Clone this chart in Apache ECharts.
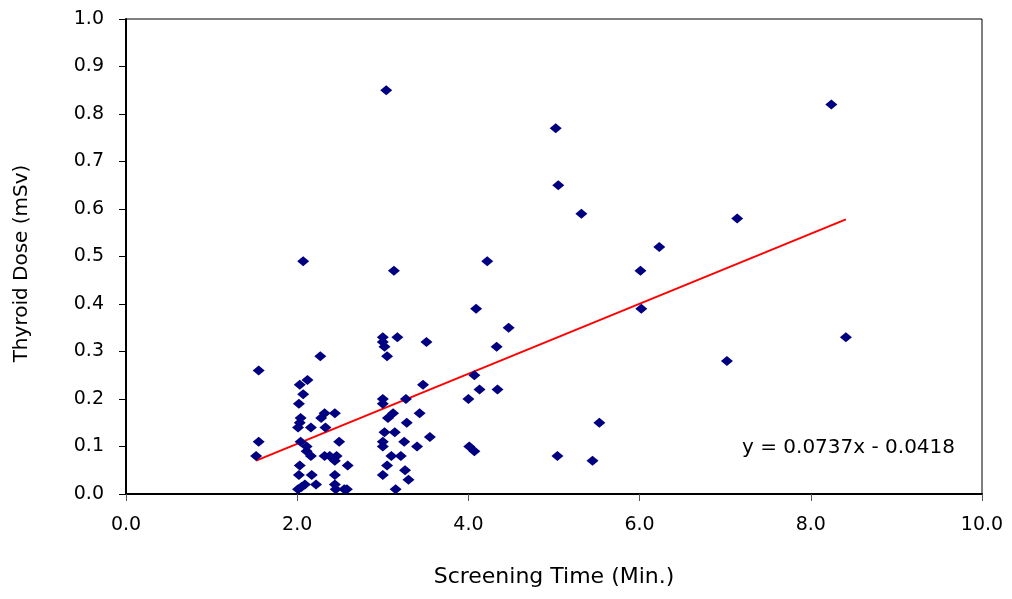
<!DOCTYPE html>
<html lang="en">
<head>
<meta charset="UTF-8">
<title>Thyroid Dose vs Screening Time</title>
<script src="https://cdn.jsdelivr.net/npm/echarts@6/dist/echarts.min.js"></script>
<style>
  html, body { margin: 0; padding: 0; background: #fff; }
  #main { width: 1012px; height: 599px; }
</style>
</head>
<body>
<div id="main"></div>
<script>
// screening time (min) and thyroid dose (mSv)
var screeningTime = [
  2.27, 1.55, 2.12, 2.03, 2.07, 2.02, 2.32, 2.44, 2.28, 2.04,
  2.03, 2.01, 2.16, 2.33, 1.55, 2.04, 2.49, 2.11, 1.52, 2.11,
  2.16, 2.32, 2.38, 2.46, 2.44, 2.59, 2.03, 2.02, 2.17, 2.44,
  2.22, 2.09, 2.05, 2.01, 2.44, 2.45, 2.55, 2.58, 2.07,
  3.13, 3.00, 3.00, 3.02, 3.17, 3.51, 3.05, 3.47, 3.00, 3.00,
  3.27, 3.12, 3.06, 3.43, 3.28, 3.02, 3.14, 3.55, 3.00, 3.00,
  3.25, 3.40, 3.10, 3.21, 3.05, 3.26, 3.00, 3.30, 3.15, 3.04,
  4.09, 4.33, 4.07, 4.13, 4.34, 4.00, 4.01, 4.07, 4.22, 4.47,
  5.04, 5.45, 5.53, 5.02, 8.24, 5.05, 5.32, 7.14, 6.23, 6.01,
  6.02, 8.41, 7.02
];
var thyroidDose = [
  0.29, 0.26, 0.24, 0.23, 0.21, 0.19, 0.17, 0.17, 0.16, 0.16,
  0.15, 0.14, 0.14, 0.14, 0.11, 0.11, 0.11, 0.10, 0.08, 0.09,
  0.08, 0.08, 0.08, 0.08, 0.07, 0.06, 0.06, 0.04, 0.04, 0.04,
  0.02, 0.02, 0.015, 0.01, 0.02, 0.01, 0.01, 0.01, 0.49,
  0.47, 0.33, 0.32, 0.31, 0.33, 0.32, 0.29, 0.23, 0.20, 0.19,
  0.20, 0.17, 0.16, 0.17, 0.15, 0.13, 0.13, 0.12, 0.11, 0.10,
  0.11, 0.10, 0.08, 0.08, 0.06, 0.05, 0.04, 0.03, 0.01, 0.85,
  0.39, 0.31, 0.25, 0.22, 0.22, 0.20, 0.10, 0.09, 0.49, 0.35,
  0.08, 0.07, 0.15, 0.77, 0.82, 0.65, 0.59, 0.58, 0.52, 0.47,
  0.39, 0.33, 0.28
];
// linear trend (from the chart's equation)
var trendSlope = 0.0737;
var trendIntercept = -0.0418;
var trendLabel = 'y = 0.0737x - 0.0418';

var points = [];
for (var i = 0; i < screeningTime.length; i++) {
  points.push([screeningTime[i], thyroidDose[i]]);
}
var xMin = Math.min.apply(null, screeningTime);
var xMax = Math.max.apply(null, screeningTime);
var trend = [
  [xMin, trendSlope * xMin + trendIntercept],
  [xMax, trendSlope * xMax + trendIntercept]
];

var font = 'DejaVu Sans';
var myChart = echarts.init(document.getElementById('main'));
var option = {
  backgroundColor: '#fff',
  animation: false,
  grid: {
    left: 126, right: 30, top: 19, bottom: 105,
    show: true, borderColor: '#000', borderWidth: 1,
    containLabel: false
  },
  xAxis: {
    type: 'value',
    min: 0, max: 10, interval: 2,
    name: 'Screening Time (Min.)',
    nameLocation: 'middle',
    nameGap: 72,
    nameTextStyle: { fontFamily: font, fontSize: 22, color: '#000' },
    axisLine: { show: true, lineStyle: { color: '#000', width: 2 } },
    axisTick: { show: true, inside: false, length: 7, lineStyle: { color: '#555' } },
    axisLabel: {
      margin: 22, fontFamily: font, fontSize: 19, color: '#000',
      formatter: function (v) { return v.toFixed(1); }
    },
    splitLine: { show: false }
  },
  yAxis: {
    type: 'value',
    min: 0, max: 1, interval: 0.1,
    name: 'Thyroid Dose (mSv)',
    nameLocation: 'middle',
    nameGap: 94,
    nameTextStyle: { fontFamily: font, fontSize: 20, color: '#000', padding: [0, 14, 0, 0] },
    axisLine: { show: true, lineStyle: { color: '#000', width: 2 } },
    axisTick: { show: true, inside: false, length: 7, lineStyle: { color: '#000' } },
    axisLabel: {
      margin: 22, fontFamily: font, fontSize: 19, color: '#000',
      formatter: function (v) { return v.toFixed(1); }
    },
    splitLine: { show: false }
  },
  graphic: [{
    type: 'text',
    left: 742, top: 438,
    style: { text: trendLabel, font: '20px "DejaVu Sans"', fill: '#000' }
  }],
  series: [{
    name: 'dose',
    type: 'scatter',
    data: points,
    symbol: 'diamond',
    symbolSize: [12, 10],
    itemStyle: { color: '#000080', opacity: 1 },
    z: 3
  }, {
    name: 'trend',
    type: 'line',
    data: trend,
    symbol: 'none',
    lineStyle: { color: '#ff0000', width: 2 },
    z: 2
  }]
};
myChart.setOption(option);
</script>
</body>
</html>
